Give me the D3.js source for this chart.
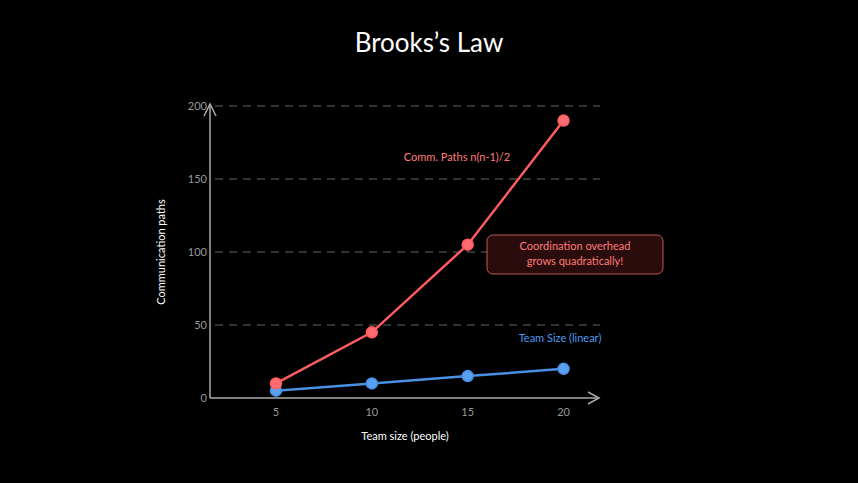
<!DOCTYPE html>
<html><head><meta charset="utf-8">
<script src="https://cdn.jsdelivr.net/npm/d3@7"></script>
<style>body{margin:0;background:#000}text{font-family:"Comic Sans MS","Lato",sans-serif}</style>
</head><body><svg id="c" width="858" height="483"></svg>
<script>
const teamSizes=[5,10,15,20];
const commPaths=[10,45,105,190];
const teamLinear=[5,10,15,20];
const yTicks=[0,50,100,150,200];
const xTicks=[5,10,15,20];
const svg=d3.select("#c");
svg.append("rect").attr("width",858).attr("height",483).attr("fill","#000");
const x=d3.scaleLinear().domain([1.56,21.9]).range([210,600]);
const y=d3.scaleLinear().domain([0,200]).range([398,106]);
svg.append("text").attr("x",429).attr("y",52).attr("text-anchor","middle").attr("fill","#fff").attr("font-size",26).text("Brooks’s Law");
// grid
svg.selectAll(".g").data(yTicks.slice(1)).join("line").attr("x1",215).attr("x2",600).attr("y1",d=>y(d)).attr("y2",d=>y(d)).attr("stroke","#666").attr("stroke-dasharray","8,6").attr("stroke-width",1);
// axes
const ax="#aaa";
svg.append("line").attr("x1",210).attr("x2",598).attr("y1",398).attr("y2",398).attr("stroke",ax).attr("stroke-width",1.5);
svg.append("path").attr("d","M588,392 L599,398 L588,404").attr("fill","none").attr("stroke",ax).attr("stroke-width",1.5);
svg.append("line").attr("x1",210).attr("x2",210).attr("y1",398).attr("y2",104).attr("stroke",ax).attr("stroke-width",1.5);
svg.append("path").attr("d","M204,116 L210,104 L216,116").attr("fill","none").attr("stroke",ax).attr("stroke-width",1.5);
svg.selectAll(".yt").data(yTicks).join("text").attr("x",207).attr("y",d=>y(d)+4).attr("text-anchor","end").attr("fill","#999").attr("font-size",11).text(d=>d);
svg.selectAll(".xt").data(xTicks).join("text").attr("x",d=>x(d)).attr("y",416).attr("text-anchor","middle").attr("fill","#999").attr("font-size",11).text(d=>d);
svg.append("text").attr("x",405).attr("y",440).attr("text-anchor","middle").attr("fill","#fff").attr("font-size",11).text("Team size (people)");
svg.append("text").attr("transform","translate(165,252) rotate(-90)").attr("text-anchor","middle").attr("fill","#fff").attr("font-size",11).text("Communication paths");
const line=d3.line().x((d,i)=>x(teamSizes[i])).y(d=>y(d));
function series(vals,col,fill){
 svg.append("path").datum(vals).attr("d",line).attr("fill","none").attr("stroke",col).attr("stroke-width",2.5);
 svg.selectAll(null).data(vals).join("circle").attr("cx",(d,i)=>x(teamSizes[i])).attr("cy",d=>y(d)).attr("r",5.5).attr("fill",fill).attr("stroke",col).attr("stroke-width",1.5);
}
series(teamLinear,"#4a90e2","#5aa0f0");
series(commPaths,"#ff5c61","#ff6b70");
svg.append("text").attr("x",457).attr("y",161).attr("text-anchor","middle").attr("fill","#ff7b7b").attr("font-size",11).text("Comm. Paths  n(n-1)/2");
svg.append("text").attr("x",560).attr("y",342).attr("text-anchor","middle").attr("fill","#4d9bf0").attr("font-size",11).text("Team Size (linear)");
svg.append("rect").attr("x",487).attr("y",235).attr("width",176).attr("height",39).attr("rx",6).attr("fill","#2a0c0c").attr("stroke","#b85a5a").attr("stroke-width",1);
svg.append("text").attr("x",575).attr("y",250).attr("text-anchor","middle").attr("fill","#ff7b7b").attr("font-size",11).text("Coordination overhead");
svg.append("text").attr("x",575).attr("y",265).attr("text-anchor","middle").attr("fill","#ff7b7b").attr("font-size",11).text("grows quadratically!");
</script></body></html>
